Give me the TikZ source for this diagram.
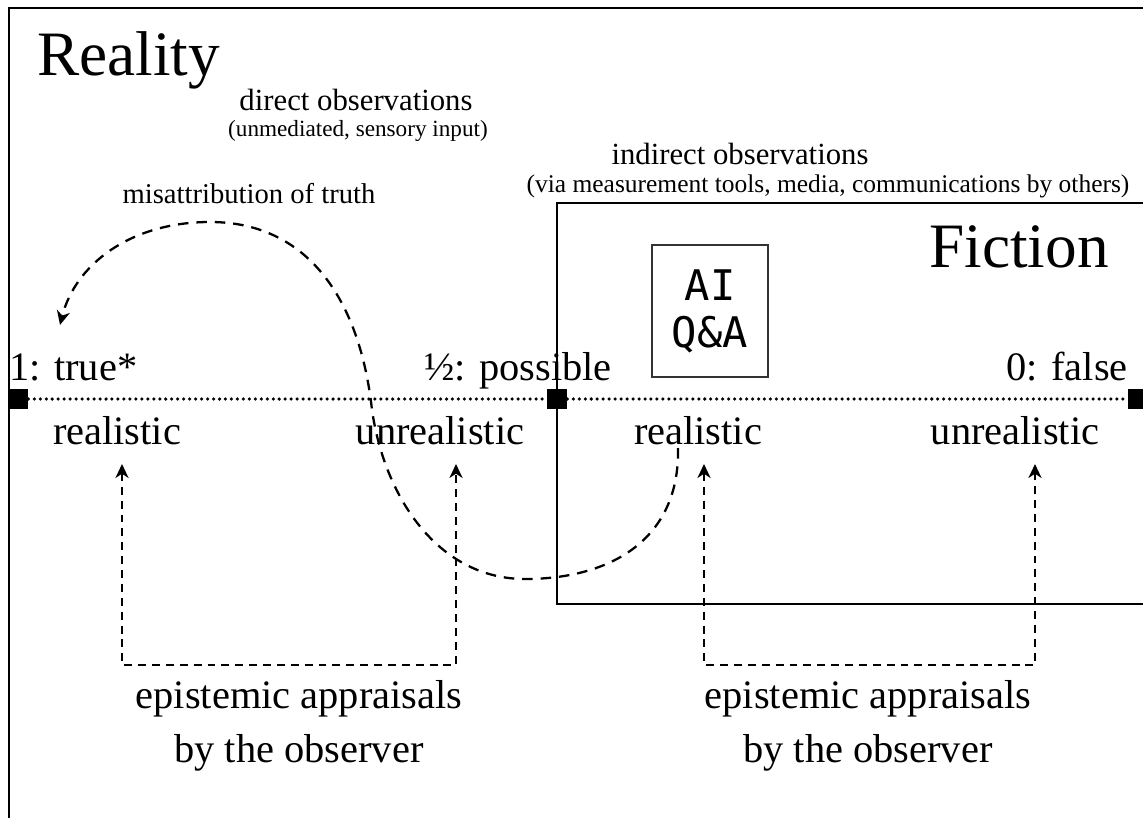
\documentclass[tikz,border=0pt]{standalone}
\usepackage{fontspec}
\setmainfont{Liberation Serif}
\newfontfamily\aifont{DejaVu Sans Mono}
\usetikzlibrary{arrows.meta, positioning}
\tikzset{
  frame/.style={draw=black, line width=1.6pt},
  bigtxt/.style={font=\fontsize{36}{40}\selectfont, inner sep=0pt},
  lbl/.style={font=\fontsize{23}{27}\selectfont, inner sep=0pt, anchor=base},
  obs/.style={font=\fontsize{17.5}{20}\selectfont, inner sep=0pt, anchor=base},
  note/.style={font=\fontsize{13.5}{16}\selectfont, inner sep=0pt, anchor=base},
  apprtxt/.style={font=\fontsize{23}{30.6}\selectfont, inner sep=0pt, align=center, anchor=base},
  marker/.style={fill=black, minimum size=0.4cm, inner sep=0pt},
  aibox/.style={draw=black!80, line width=0.6pt, minimum width=2.32cm, minimum height=2.64cm,
    align=center, inner sep=0pt, font=\aifont\fontsize{24}{26.7}\selectfont},
  truthline/.style={line width=2pt, line cap=round, dash pattern=on 0pt off 3.4pt},
  tip/.style={-{Stealth[length=8pt, width=7.5pt, inset=2.5pt]}},
  misattr/.style={line width=1.3pt, dash pattern=on 6pt off 4.5pt, tip},
  appr/.style={line width=1.2pt, dash pattern=on 4.5pt off 3.4pt,
    {Stealth[length=8pt, width=7.5pt, inset=2.5pt]}-{Stealth[length=8pt, width=7.5pt, inset=2.5pt]}},
}
\begin{document}
\begin{tikzpicture}[x=0.02cm, y=-0.02cm]
    \useasboundingbox (0,0) rectangle (1143,818);
    \clip (0,0) rectangle (1143,818);
    \draw[frame] (9,8) rectangle (1180,850);
    \draw[frame] (557,203) rectangle (1180,604);

    \node[bigtxt, anchor=base west] (reality) at (37,75) {Reality};
    \node[bigtxt, anchor=base east] (fiction) at (1109,267) {Fiction};
    \node[obs] (direct) at (356,110) {direct observations};
    \node[note, font=\fontsize{13.2}{16}\selectfont] (directn) at (358,136) {(unmediated, sensory input)};
    \node[obs] (indirect) at (740,164) {indirect observations};
    \node[note, font=\fontsize{14.5}{16}\selectfont] (indirectn) at (828,192) {(via measurement tools, media, communications by others)};
    \node[obs, font=\fontsize{16.3}{20}\selectfont] (misatt) at (249,203) {misattribution of truth};

    \node[aibox] (ai) at (710,311) {AI\\Q\&A};

    \node[marker] (sq0) at (18,399) {};
    \node[marker] (sqh) at (557,399) {};
    \node[marker] (sq1) at (1138,399) {};
    \draw[truthline] (sq0.east) -- (sqh.west);
    \draw[truthline] (sqh.east) -- (sq1.west);

    \node[lbl, anchor=base west] (true) at (9,380) {1: true*};
    \node[lbl, anchor=base east] (poss) at (612,380) {½: possible};
    \node[lbl, anchor=base east] (false) at (1128,380) {0: false};

    \node[lbl] (real1) at (117,444) {realistic};
    \node[lbl] (unreal1) at (440,444) {unrealistic};
    \node[lbl] (real2) at (698,444) {realistic};
    \node[lbl] (unreal2) at (1015,444) {unrealistic};

    \coordinate (m0) at (678,448);
    \coordinate (m1) at (525,579);
    \coordinate (m2) at (372,410);
    \coordinate (m3) at (210,222);
    \coordinate (m4) at (60,325);
    \draw[misattr] (m0) .. controls (680,540) and (610,579) .. (m1)
      .. controls (440,579) and (385,500) .. (m2)
      .. controls (360,300) and (308,222) .. (m3)
      .. controls (130,222) and (75,265) .. (m4);

    \coordinate (a1) at (122,464);
    \coordinate (a2) at (456,464);
    \coordinate (a3) at (704,464);
    \coordinate (a4) at (1035,464);
    \draw[appr] (a1) -- (122,665) -- (456,665) -- (a2);
    \draw[appr] (a3) -- (704,665) -- (1035,665) -- (a4);

    \node[apprtxt] (ep1) at (299,762) {epistemic appraisals\\by the observer};
    \node[apprtxt] (ep2) at (868,762) {epistemic appraisals\\by the observer};
  \end{tikzpicture}
\end{document}
